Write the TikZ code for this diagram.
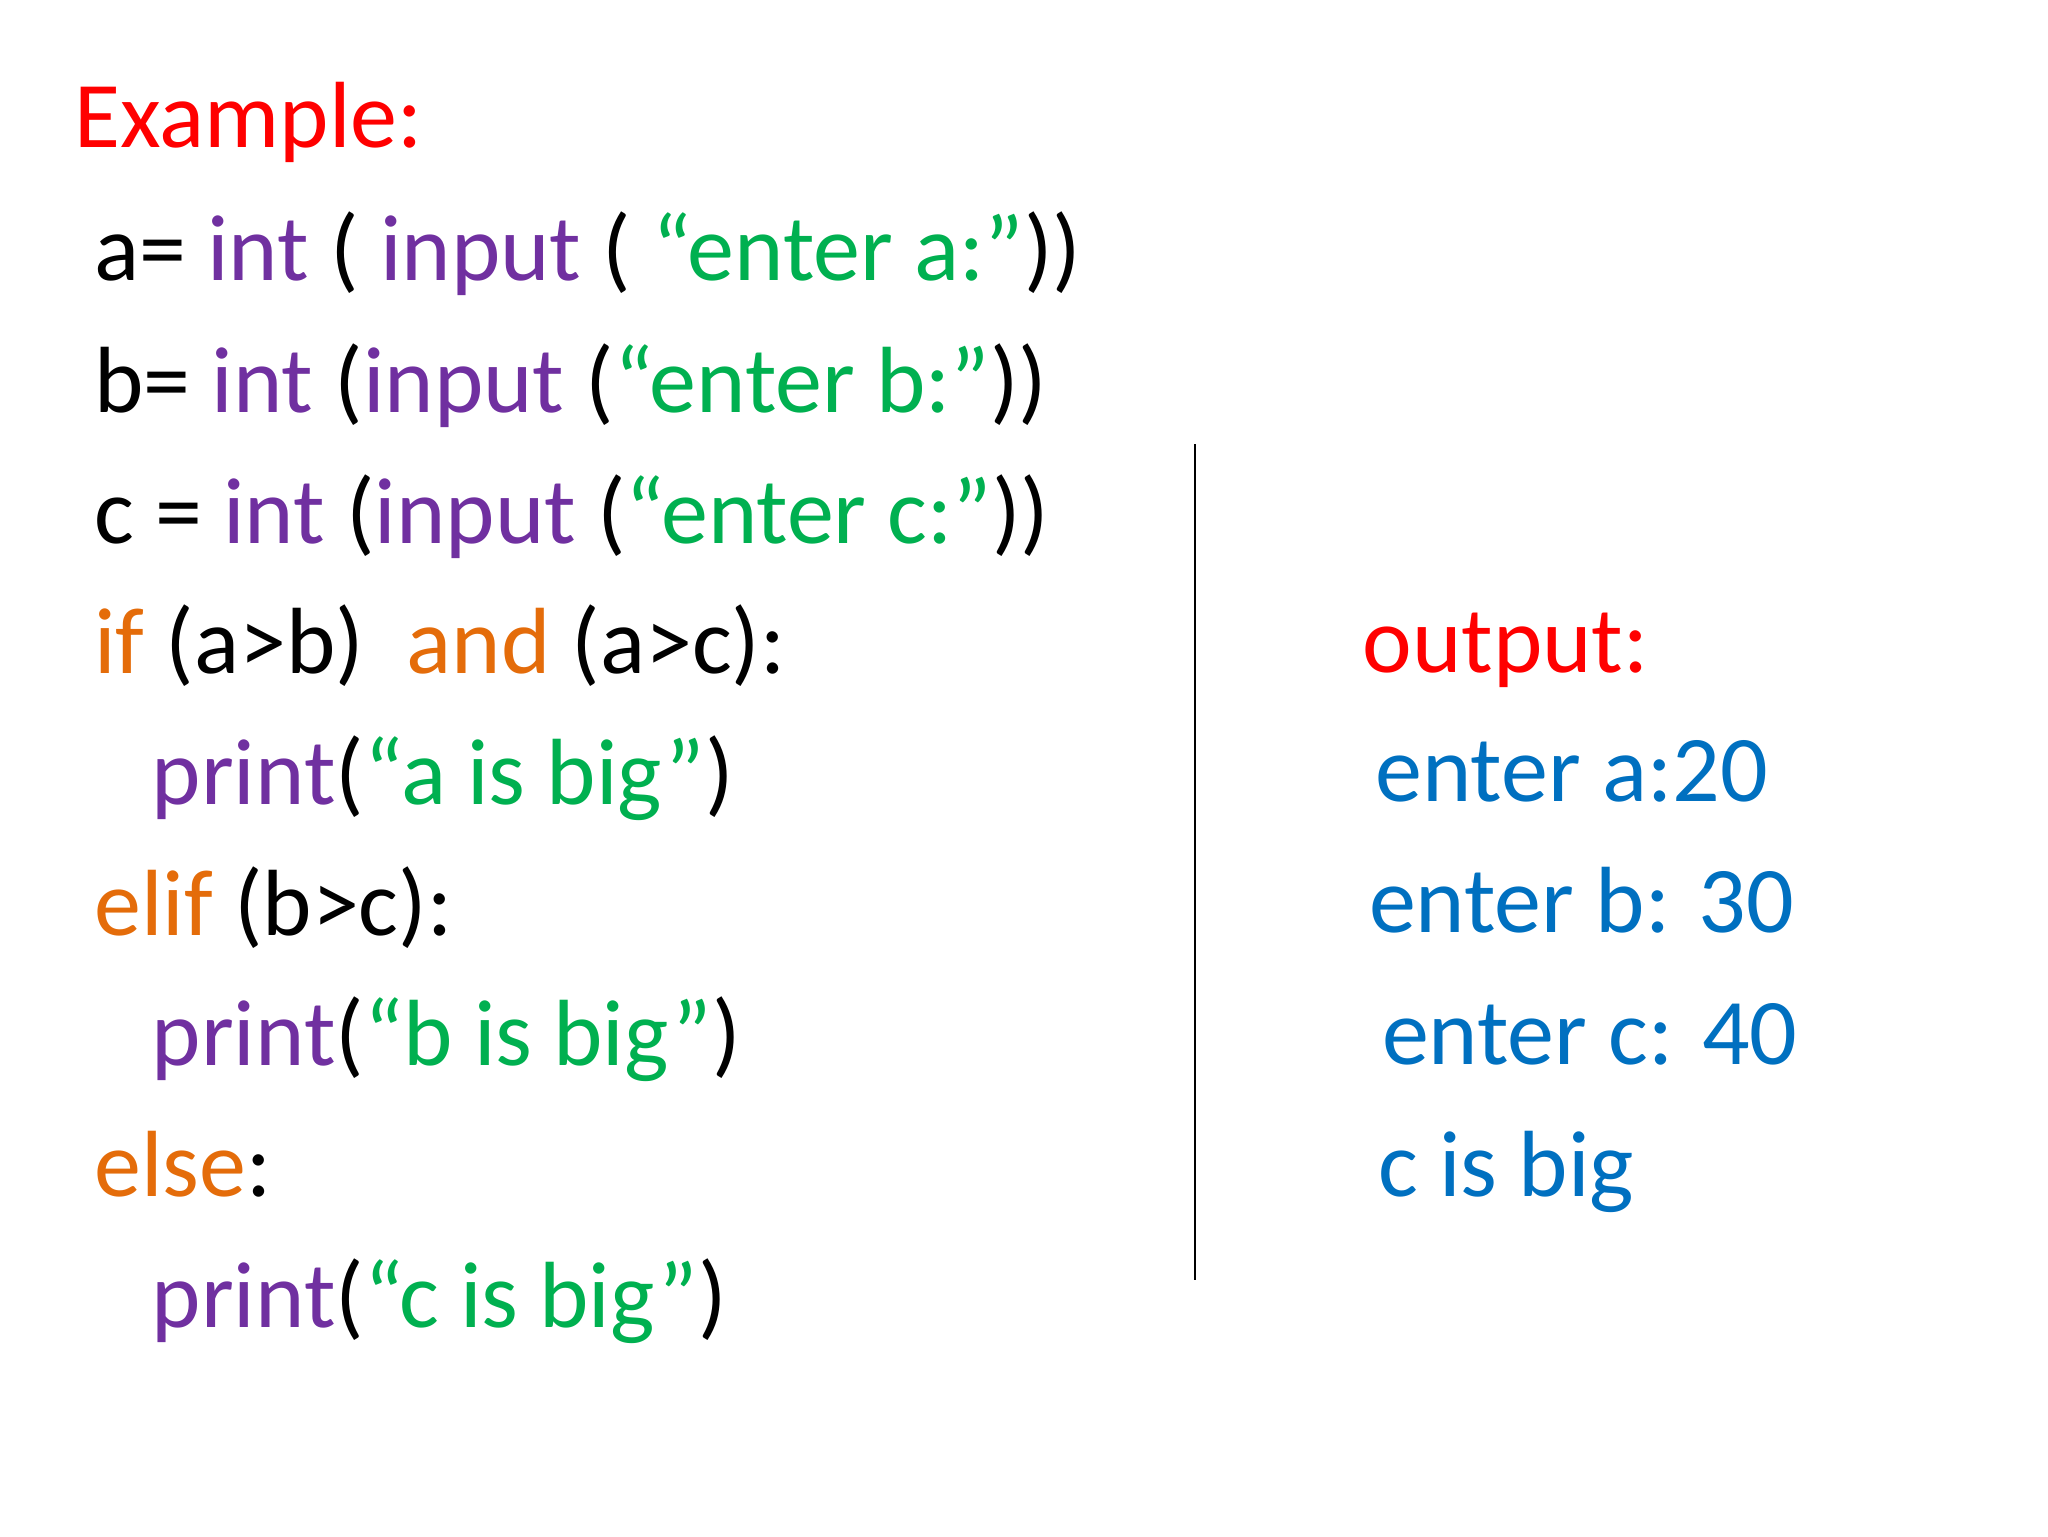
\documentclass[tikz,border=0pt]{standalone}
\usepackage{fontspec}
\setmainfont{Carlito}
\definecolor{pu}{RGB}{112,48,160}
\definecolor{gr}{RGB}{0,176,80}
\definecolor{orn}{RGB}{228,108,10}
\definecolor{rd}{RGB}{255,0,0}
\definecolor{bl}{RGB}{0,112,192}
\tikzset{ln/.style={anchor=base west,inner sep=0pt,font=\fontsize{72}{80}\selectfont}}
\begin{document}
\begin{tikzpicture}[x=1pt,y=-1pt]
\useasboundingbox (0,0) rectangle (1568,1176);
\node[ln,text=rd] (ex) at (57,113) {Example:};
\node[ln] (l1) at (72,215) {a= \textcolor{pu}{int} ( \textcolor{pu}{input} ( \textcolor{gr}{“enter a:”}))};
\node[ln] (l2) at (72,316) {b= \textcolor{pu}{int} (\textcolor{pu}{input} (\textcolor{gr}{“enter b:”}))};
\node[ln] (l3) at (72,416) {c = \textcolor{pu}{int} (\textcolor{pu}{input} (\textcolor{gr}{“enter c:”}))};
\node[ln] (l4) at (72,516) {\textcolor{orn}{if} (a>b)\ \ \textcolor{orn}{and} (a>c):};
\node[ln] (l5) at (116,616) {\textcolor{pu}{print}(\textcolor{gr}{“a is big”})};
\node[ln] (l6) at (72,716) {\textcolor{orn}{elif} (b>c):};
\node[ln] (l7) at (116,816) {\textcolor{pu}{print}(\textcolor{gr}{“b is big”})};
\node[ln] (l8) at (72,916) {\textcolor{orn}{else}:};
\node[ln] (l9) at (116,1016) {\textcolor{pu}{print}(\textcolor{gr}{“c is big”})};
\coordinate (t) at (915,340);
\coordinate (b) at (915,980);
\draw[line width=1.5pt] (t) -- (b);
\node[ln,text=rd] (o0) at (1043,515) {output:};
\node[ln,text=bl] (o1) at (1053,614) {enter a:20};
\node[ln,text=bl] (o2) at (1048,714) {enter b: 30};
\node[ln,text=bl] (o3) at (1058,815) {enter c: 40};
\node[ln,text=bl] (o4) at (1055,916) {c is big};
\end{tikzpicture}
\end{document}
